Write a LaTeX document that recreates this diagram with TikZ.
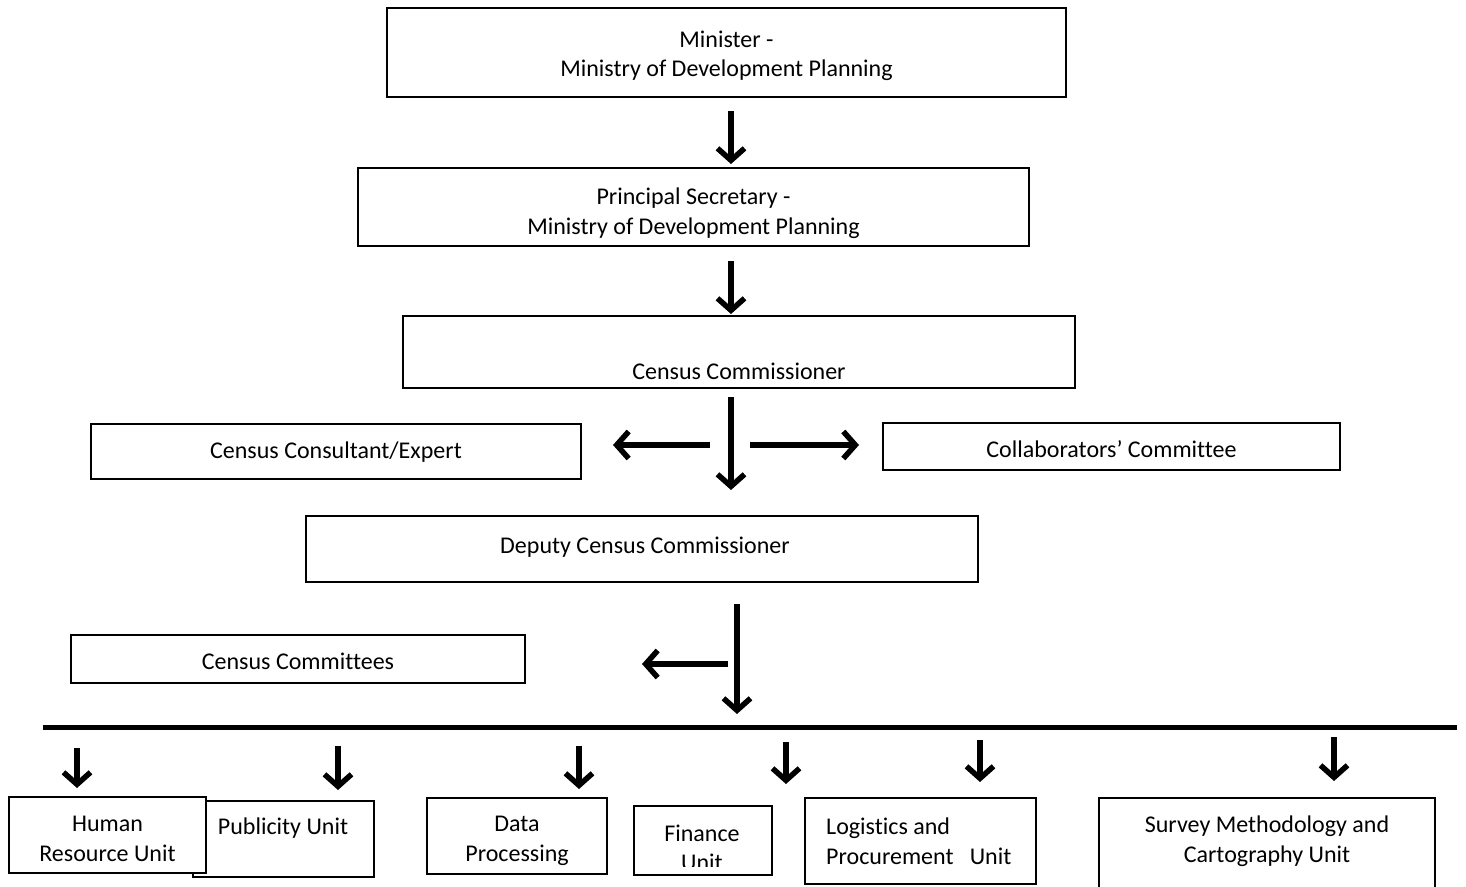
\documentclass[tikz,border=0pt]{standalone}
\usepackage{fontspec}
\setmainfont{Carlito}[Ligatures={NoCommon}]
\usetikzlibrary{arrows.meta}
\begin{document}
\begin{tikzpicture}[x=1pt,y=-1pt,
  box/.style={draw=black,line width=1.8pt,fill=white,inner sep=0pt},
  txt/.style={inner sep=0pt,align=center,font=\fontsize{24}{29.5}\selectfont},
  arr/.style={line width=5.8pt,-{Straight Barb[length=12pt,width=27pt,line width=5.5pt]}},
  bar/.style={line width=5pt}]
\useasboundingbox (0,0) rectangle (1466,886);
% boxes
\node[box,minimum width=679pt,minimum height=89pt] (min) at (726.5,52.5) {};
\node[txt] (minT) at (726.5,56) {Minister -\\Ministry of Development Planning};
\node[box,minimum width=671pt,minimum height=78pt] (ps) at (693.5,207) {};
\node[txt] (psT) at (693.5,213) {Principal Secretary -\\Ministry of Development Planning};
\node[box,minimum width=672pt,minimum height=72pt] (cc) at (739,352) {};
\node[txt] (ccT) at (739,371) {Census Commissioner};
\node[box,minimum width=490pt,minimum height=55pt] (cons) at (336,451.5) {};
\node[txt] (consT) at (336,452) {Census Consultant/Expert};
\node[box,minimum width=457pt,minimum height=47pt] (coll) at (1111.5,446.5) {};
\node[txt] (collT) at (1111.5,449) {Collaborators’ Committee};
\node[box,minimum width=672pt,minimum height=66pt] (dep) at (642,549) {};
\node[txt] (depT) at (645,547) {Deputy Census Commissioner};
\node[box,minimum width=454pt,minimum height=48pt] (cttee) at (298,659) {};
\node[txt] (ctteeT) at (298,661) {Census Committees};
% bar
\coordinate (barL) at (43,727);
\coordinate (barR) at (1457,727);
\draw[bar] (barL) -- (barR);
% bottom units
\node[box,minimum width=181pt,minimum height=76pt] (pub) at (283.5,839) {};
\node[txt] (pubT) at (283,828) {Publicity Unit};
\node[box,minimum width=197pt,minimum height=76pt] (hr) at (107.5,835) {};
\node[txt] (hrT) at (107.5,839) {Human\\Resource Unit};
\node[box,minimum width=180pt,minimum height=76pt] (dp) at (517,836) {};
\node[txt] (dpT) at (517,841) {Data\\Processing};
\node[box,minimum width=138pt,minimum height=69pt] (fin) at (703,840.5) {};
\begin{scope}
\clip (634,806) rectangle (772,866);
\node[txt] (finT) at (702,848) {Finance\\Unit};
\end{scope}
\node[box,minimum width=231pt,minimum height=86pt] (log) at (920.5,841) {};
\node[txt,align=left,anchor=west] (logT) at (826,841) {Logistics and\\Procurement\ \ \ Unit};
\node[box,minimum width=336pt,minimum height=92pt] (sur) at (1267,844) {};
\node[txt] (surT) at (1267,841) {Survey Methodology and\\Cartography Unit};
% arrow coordinates
\coordinate (a1s) at (731,111); \coordinate (a1e) at (731,164);
\coordinate (a2s) at (731,261); \coordinate (a2e) at (731,314);
\coordinate (a3s) at (731,397); \coordinate (a3e) at (731,490);
\coordinate (a4s) at (710,445); \coordinate (a4e) at (613,445);
\coordinate (a5s) at (750,445); \coordinate (a5e) at (859,445);
\coordinate (a6s) at (737,604); \coordinate (a6e) at (737,714);
\coordinate (a7s) at (728,664); \coordinate (a7e) at (642,664);
\coordinate (b1s) at (77,748); \coordinate (b1e) at (77,788);
\coordinate (b2s) at (338,746); \coordinate (b2e) at (338,790);
\coordinate (b3s) at (579,746); \coordinate (b3e) at (579,789);
\coordinate (b4s) at (786,742); \coordinate (b4e) at (786,784);
\coordinate (b5s) at (980,740); \coordinate (b5e) at (980,782);
\coordinate (b6s) at (1334,737); \coordinate (b6e) at (1334,781);
\foreach \p in {a1,a2,a3,a4,a5,a6,a7,b1,b2,b3,b4,b5,b6}
  \draw[arr] (\p s) -- (\p e);
\end{tikzpicture}
\end{document}
